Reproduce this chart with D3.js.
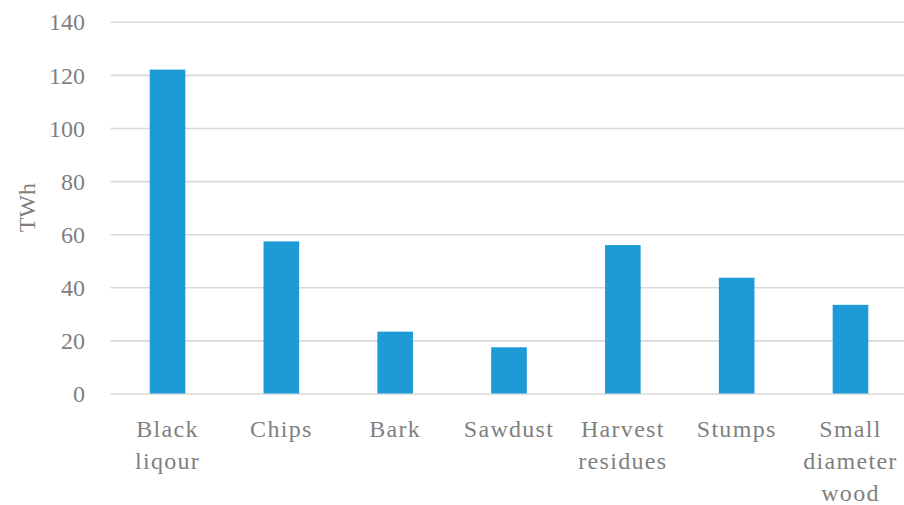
<!DOCTYPE html>
<html>
<head>
<meta charset="utf-8">
<script src="https://cdn.jsdelivr.net/npm/d3@7"></script>
<style>
html,body{margin:0;padding:0;background:#fff;}
svg{display:block;}
</style>
</head>
<body>
<svg id="chart" width="904" height="505"></svg>
<script>
const categories = ["Black liqour", "Chips", "Bark", "Sawdust", "Harvest residues", "Stumps", "Small diameter wood"];
const categoryLines = [["Black","liqour"],["Chips"],["Bark"],["Sawdust"],["Harvest","residues"],["Stumps"],["Small","diameter","wood"]];
const values = [122, 57.3, 23.3, 17.4, 55.9, 43.6, 33.4];
const yTicks = [0, 20, 40, 60, 80, 100, 120, 140];
const yLabel = "TWh";

const svg = d3.select("#chart");
const margin = {left: 110.6, right: -3.4, top: 21.8, bottom: 111.5};
const W = 904, H = 505;
const x = d3.scaleBand().domain(categories).range([margin.left, W - margin.right]).paddingInner(0.687).paddingOuter(0.3435);
const y = d3.scaleLinear().domain([0, 140]).range([H - margin.bottom, margin.top]);

const font = "'Liberation Serif', 'Times New Roman', serif";
const textColor = "#7f7f7f";

// gridlines
const yAxis = d3.axisLeft(y).tickValues(yTicks).tickSize(0).tickPadding(0).tickFormat(d3.format("d"));
const gy = svg.append("g").attr("transform", `translate(${margin.left},0)`).call(yAxis);
gy.select(".domain").remove();
gy.selectAll(".tick line").attr("x2", W - margin.left).attr("stroke", "#d9d9d9").attr("stroke-width", 1.6);
gy.selectAll(".tick text").attr("x", -25.5).attr("dy", "0.34em")
  .attr("fill", textColor).style("font-family", font).style("font-size", "24px");

// bars
svg.append("g").selectAll("rect").data(values).join("rect")
  .attr("x", (d, i) => x(categories[i]))
  .attr("width", x.bandwidth())
  .attr("y", d => y(d))
  .attr("height", d => y(0) - y(d))
  .attr("fill", "#1e9bd7");

// x labels
const xAxis = d3.axisBottom(x).tickSize(0).tickFormat("");
const gx = svg.append("g").attr("transform", `translate(0,${y(0)})`).call(xAxis);
gx.select(".domain").remove();
gx.selectAll(".tick").each(function(d, i) {
  const t = d3.select(this).append("text")
    .attr("fill", textColor).style("font-family", font).style("font-size", "24px")
    .attr("text-anchor", "middle").style("letter-spacing", "1.3px");
  categoryLines[i].forEach((line, j) => {
    t.append("tspan").attr("x", 0).attr("y", 43.5 + j * 31.8).text(line);
  });
});

// y label
svg.append("text")
  .attr("transform", `translate(35,${(y(0) + y(140)) / 2}) rotate(-90)`)
  .attr("text-anchor", "middle")
  .attr("fill", textColor).style("font-family", font).style("font-size", "24px")
  .text(yLabel);
</script>
</body>
</html>
